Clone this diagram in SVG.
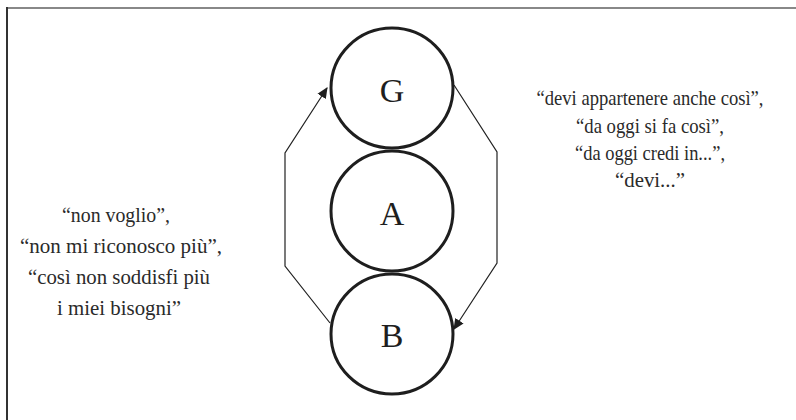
<svg xmlns="http://www.w3.org/2000/svg" width="796" height="420" viewBox="0 0 796 420">
<style>
.node{fill:none;stroke:#1e1e1e;stroke-width:3}
.lbl{font-family:"Liberation Serif",serif;font-size:34px;fill:#1e1e1e;text-anchor:middle}
.conn{fill:none;stroke:#222;stroke-width:1.2}
.txt{font-family:"Liberation Serif",serif;font-size:21px;fill:#2a2a2a;text-anchor:middle}
</style>
<defs>
<marker id="ah" viewBox="0 0 10 10" refX="9" refY="5" markerWidth="11" markerHeight="11" markerUnits="userSpaceOnUse" orient="auto">
<path d="M0,0.5 L10,5 L0,9.5 Z" fill="#1e1e1e"/>
</marker>
</defs>
<rect width="796" height="420" fill="#fff"/>
<line x1="7" y1="8" x2="796" y2="8" stroke="#888" stroke-width="2"/>
<line x1="7" y1="7" x2="7" y2="420" stroke="#333" stroke-width="2"/>
<g id="connectors">
<polyline class="conn" points="330,323 285,266 285,153 327,88" marker-end="url(#ah)"/>
<polyline class="conn" points="454,85 497,152 497,263 454,329" marker-end="url(#ah)"/>
</g>
<g id="node-G"><ellipse class="node" cx="392" cy="88" rx="61" ry="60"/><text class="lbl" x="392" y="102">G</text></g>
<g id="node-A"><ellipse class="node" cx="392" cy="211" rx="61" ry="60"/><text class="lbl" x="392" y="225">A</text></g>
<g id="node-B"><ellipse class="node" cx="392" cy="334" rx="61" ry="60"/><text class="lbl" x="392" y="347">B</text></g>
<g id="text-right">
<text class="txt" x="650" y="105" textLength="227" lengthAdjust="spacingAndGlyphs">“devi appartenere anche così”,</text>
<text class="txt" x="650" y="133" textLength="148" lengthAdjust="spacingAndGlyphs">“da oggi si fa così”,</text>
<text class="txt" x="650" y="160" textLength="150" lengthAdjust="spacingAndGlyphs">“da oggi credi in...”,</text>
<text class="txt" x="650" y="187" textLength="70" lengthAdjust="spacingAndGlyphs">“devi...”</text>
</g>
<g id="text-left">
<text class="txt" x="116" y="222" textLength="108" lengthAdjust="spacingAndGlyphs">“non voglio”,</text>
<text class="txt" x="121" y="253" textLength="202" lengthAdjust="spacingAndGlyphs">“non mi riconosco più”,</text>
<text class="txt" x="119" y="284" textLength="182" lengthAdjust="spacingAndGlyphs">“così non soddisfi più</text>
<text class="txt" x="119" y="315" textLength="124" lengthAdjust="spacingAndGlyphs">i miei bisogni”</text>
</g>
</svg>
